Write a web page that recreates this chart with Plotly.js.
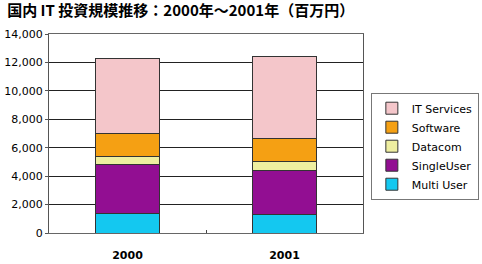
<!DOCTYPE html>
<html><head><meta charset="utf-8">
<script src="https://cdn.plot.ly/plotly-3.0.1.min.js"></script>
<style>html,body{margin:0;padding:0;background:#fff;}#chart{width:482px;height:264px;}</style>
</head><body><div id="chart"></div>
<script>
const years = ['2000', '2001'];
const multiUser = [1400, 1300];
const singleUser = [3400, 3100];
const datacom = [600, 600];
const software = [1600, 1650];
const itServices = [5300, 5800];
const seriesNames = ['Multi User', 'SingleUser', 'Datacom', 'Software', 'IT Services'];
const seriesValues = [multiUser, singleUser, datacom, software, itServices];
const seriesColors = ['#14c8f0', '#920e92', '#eeeea0', '#f5a013', '#f4c6ca'];

const traces = seriesNames.map((name, i) => ({
  type: 'bar',
  name: name,
  x: years,
  y: seriesValues[i],
  width: 0.41,
  marker: {color: seriesColors[i], line: {color: '#333', width: 1}},
  hoverinfo: 'skip'
}));

const layout = {
  width: 482, height: 264,
  margin: {l: 49, r: 119, t: 34, b: 31, autoexpand: false},
  paper_bgcolor: '#fff', plot_bgcolor: '#fff',
  barmode: 'stack',
  showlegend: true,
  font: {family: 'DejaVu Sans, sans-serif', size: 11, color: '#000'},
  title: {
    text: '<b>国内 IT 投資規模推移：2000年～2001年（百万円）</b>',
    font: {family: '"Noto Sans CJK JP", sans-serif', size: 15, color: '#000'},
    x: 0.015, xanchor: 'left', y: 0.96, yanchor: 'middle'
  },
  xaxis: {
    type: 'category',
    showline: true, linecolor: '#666', linewidth: 1, mirror: true,
    ticks: 'inside', tickson: 'boundaries', ticklen: 3, tickcolor: '#444',
    showgrid: false,
    tickfont: {family: 'DejaVu Sans, sans-serif', size: 11, color: '#000', weight: 'bold'},
    ticklabelstandoff: 12
  },
  yaxis: {
    range: [0, 14000], dtick: 2000, tickformat: ',d',
    showline: true, linecolor: '#555', linewidth: 1, mirror: true,
    ticks: 'outside', ticklen: 3, tickcolor: '#555',
    showgrid: true, gridcolor: '#222', gridwidth: 1,
    zeroline: false,
    tickfont: {family: 'DejaVu Sans, sans-serif', size: 11, color: '#000'}
  },
  legend: {
    x: 1.025, xanchor: 'left', y: 0.705, yanchor: 'top',
    traceorder: 'reversed',
    bordercolor: '#777', borderwidth: 1,
    font: {family: 'DejaVu Sans, sans-serif', size: 11, color: '#000'},
    tracegroupgap: 0, itemwidth: 30
  }
};
Plotly.newPlot('chart', traces, layout, {staticPlot: true});
</script></body></html>
